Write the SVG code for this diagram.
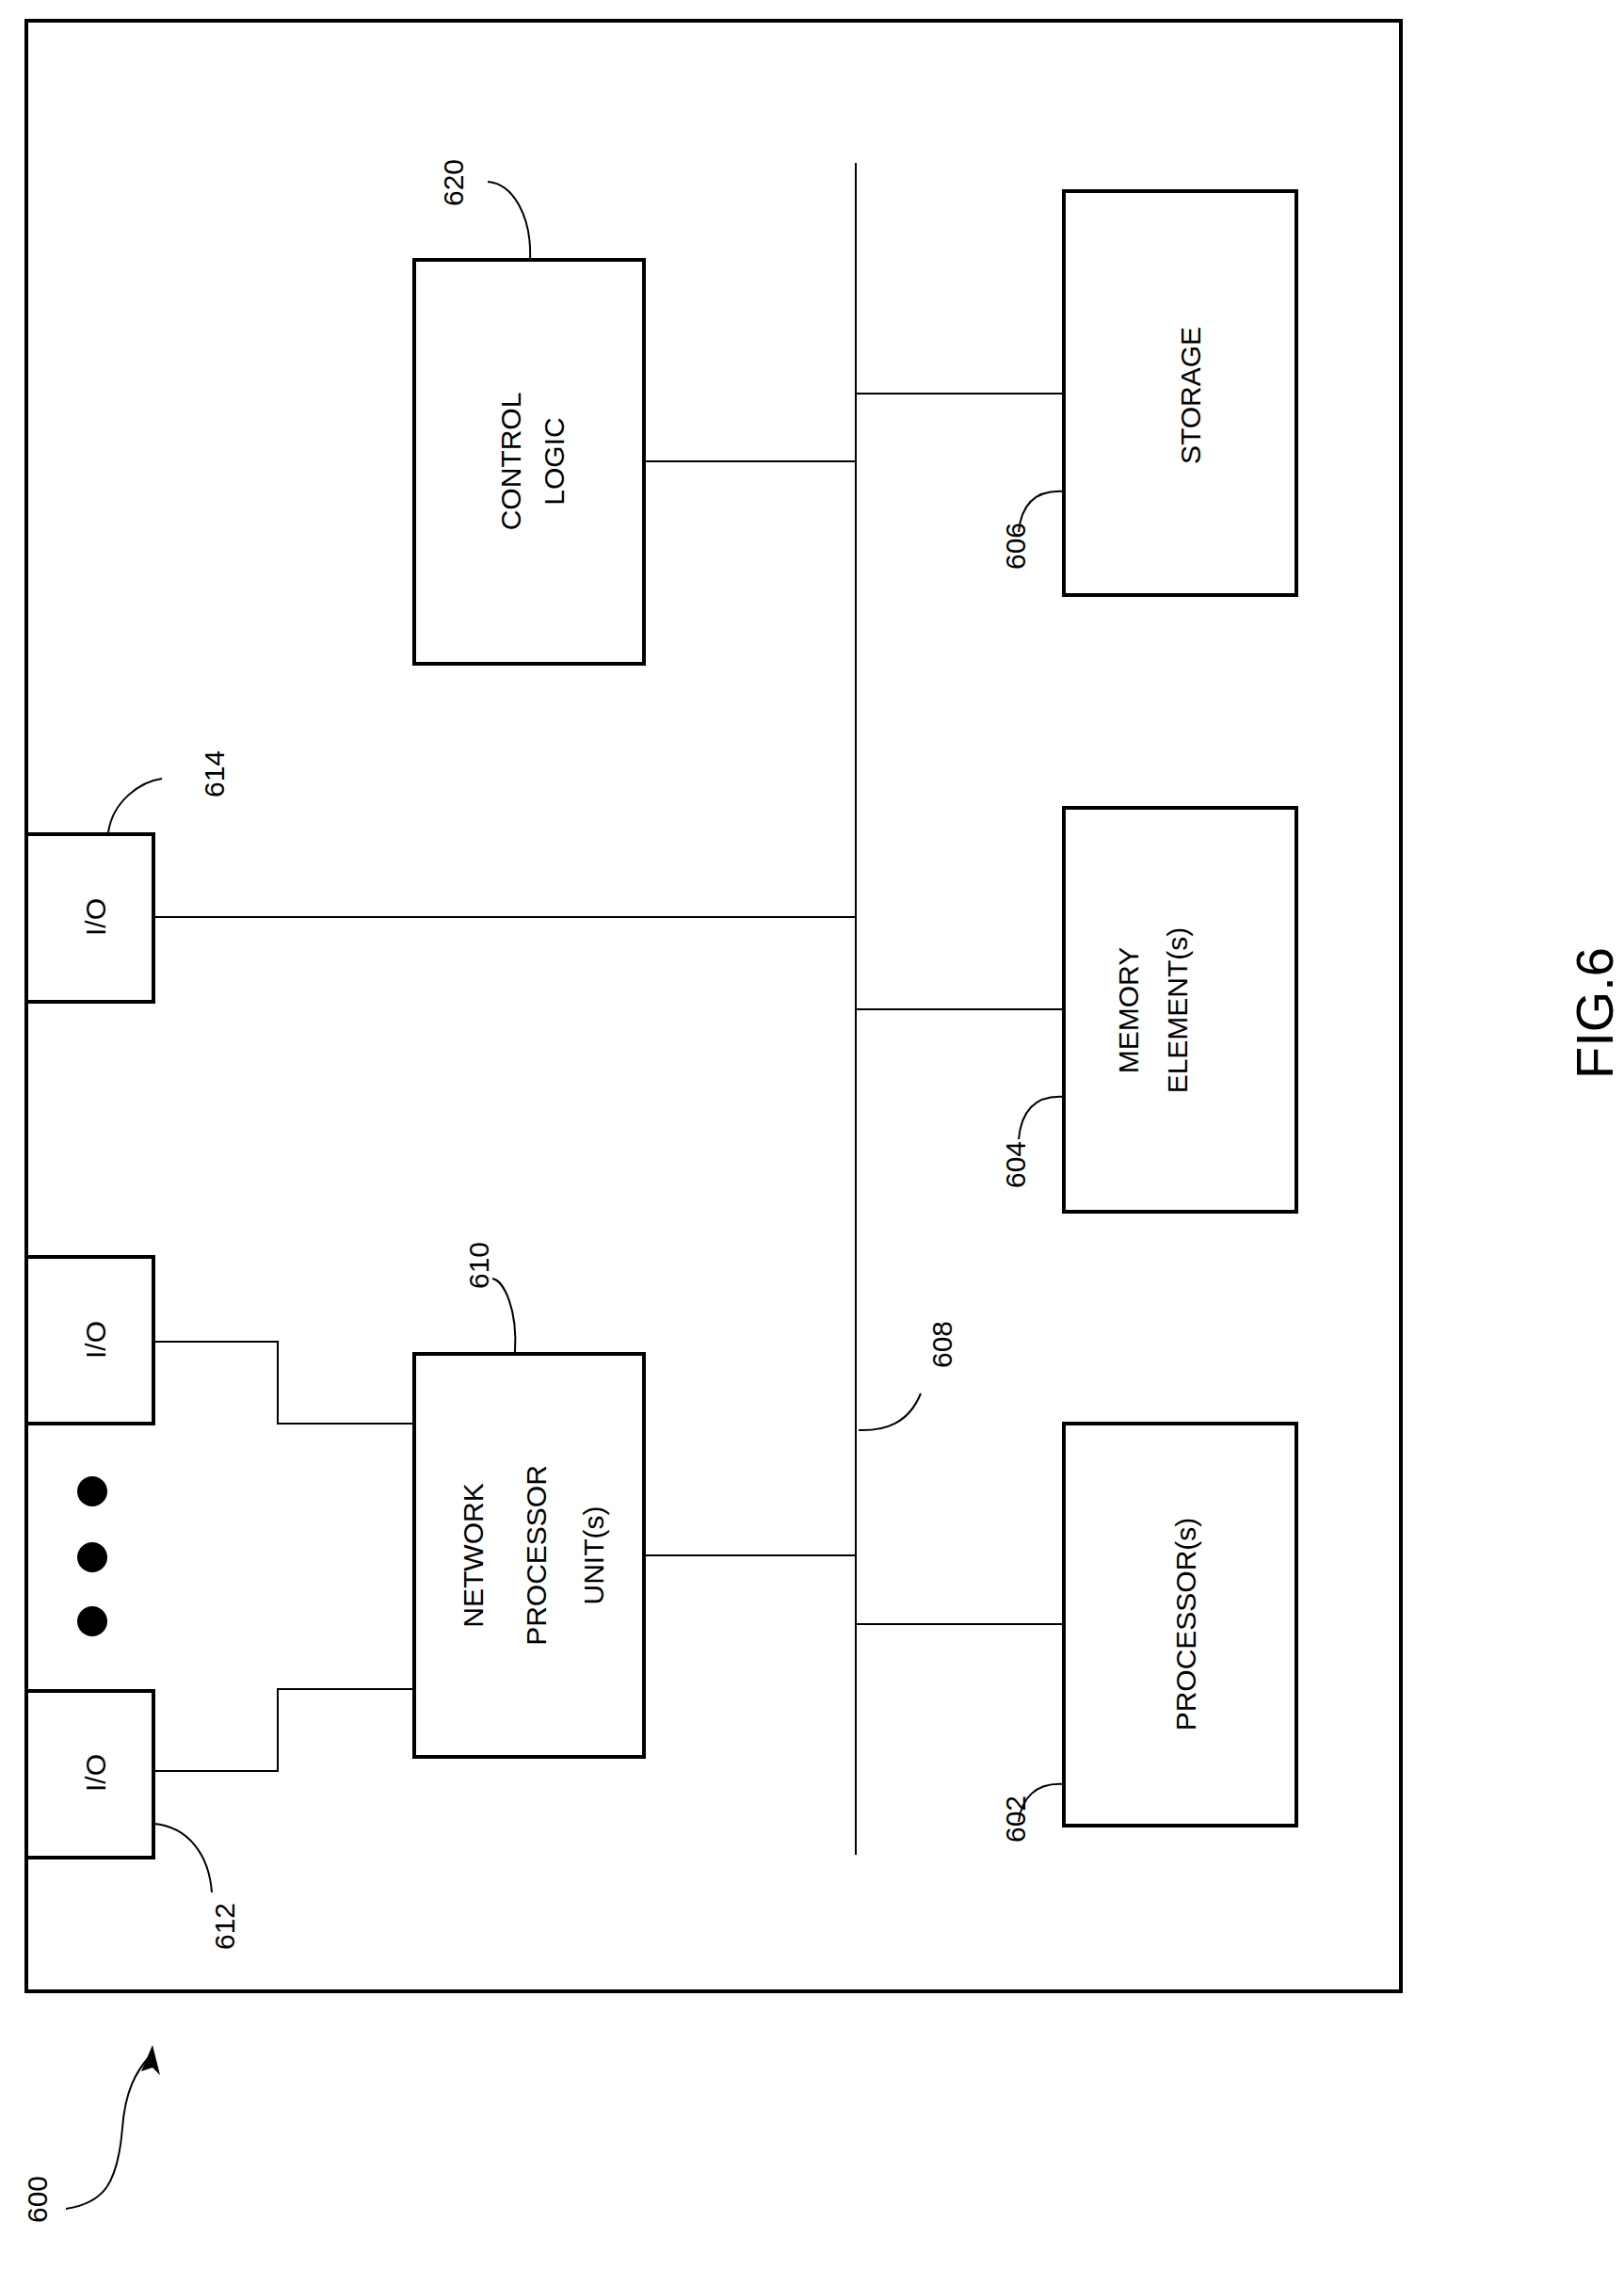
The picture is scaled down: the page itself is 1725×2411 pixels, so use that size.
<svg xmlns="http://www.w3.org/2000/svg" width="1725" height="2411" viewBox="0 0 1725 2411">
<style>
.b{fill:#fff;stroke:#000;stroke-width:4}
.l{fill:none;stroke:#000;stroke-width:2}
.t{font-family:"Liberation Sans",Arial,sans-serif;font-size:30px;text-anchor:middle;fill:#000}
.n{font-family:"Liberation Sans",Arial,sans-serif;font-size:30px;text-anchor:middle;fill:#000}
</style>
<rect x="0" y="0" width="1725" height="2411" fill="#fff"/>
<rect x="28" y="22" width="1460" height="2093" fill="none" stroke="#000" stroke-width="4"/>
<g id="connectors">
<line class="l" x1="909" y1="173" x2="909" y2="1970" stroke-width="3"/>
<line class="l" x1="684" y1="490" x2="909" y2="490"/>
<line class="l" x1="909" y1="418" x2="1130" y2="418"/>
<line class="l" x1="163" y1="974" x2="909" y2="974"/>
<line class="l" x1="909" y1="1072" x2="1130" y2="1072"/>
<line class="l" x1="684" y1="1652" x2="909" y2="1652"/>
<line class="l" x1="909" y1="1725" x2="1130" y2="1725"/>
<polyline class="l" points="163,1425 295,1425 295,1512 440,1512"/>
<polyline class="l" points="163,1881 295,1881 295,1794 440,1794"/>
<path class="l" d="M563,276 C565,230 545,195 518,193"/>
<path class="l" d="M115,884 C120,850 150,830 172,827"/>
<path class="l" d="M547,1437 C550,1390 535,1360 523,1358"/>
<path class="l" d="M912,1519 C940,1520 965,1512 978,1480"/>
<path class="l" d="M1130,522 C1100,520 1085,535 1082,565"/>
<path class="l" d="M1130,1165 C1100,1163 1085,1180 1082,1210"/>
<path class="l" d="M1130,1895 C1100,1893 1085,1910 1082,1935"/>
<path class="l" d="M163,1937 C200,1940 222,1970 225,2010"/>
<path class="l" d="M70,2346 C110,2340 125,2320 130,2260 C133,2220 145,2200 158,2185"/>
<polygon points="162,2172 150,2200 162,2196 170,2204" fill="#000"/>
</g>
<g id="n620"><rect class="b" x="440" y="276" width="244" height="429"/>
<text class="t" transform="translate(553,490) rotate(-90)">CONTROL</text>
<text class="t" transform="translate(599,490) rotate(-90)">LOGIC</text></g>
<g id="n606"><rect class="b" x="1130" y="203" width="247" height="429"/>
<text class="t" transform="translate(1275,420) rotate(-90)">STORAGE</text></g>
<g id="n604"><rect class="b" x="1130" y="858" width="247" height="429"/>
<text class="t" transform="translate(1209,1073) rotate(-90)">MEMORY</text>
<text class="t" transform="translate(1261,1073) rotate(-90)">ELEMENT(s)</text></g>
<g id="n602"><rect class="b" x="1130" y="1512" width="247" height="427"/>
<text class="t" transform="translate(1270,1725) rotate(-90)">PROCESSOR(s)</text></g>
<g id="n610"><rect class="b" x="440" y="1438" width="244" height="428"/>
<text class="t" transform="translate(513,1652) rotate(-90)">NETWORK</text>
<text class="t" transform="translate(580,1652) rotate(-90)">PROCESSOR</text>
<text class="t" transform="translate(641,1652) rotate(-90)">UNIT(s)</text></g>
<g id="n614"><rect class="b" x="28" y="886" width="135" height="178"/>
<text class="t" transform="translate(112,974) rotate(-90)">I/O</text></g>
<g id="io2"><rect class="b" x="28" y="1335" width="135" height="177"/>
<text class="t" transform="translate(112,1423) rotate(-90)">I/O</text></g>
<g id="n612"><rect class="b" x="28" y="1796" width="135" height="177"/>
<text class="t" transform="translate(112,1883) rotate(-90)">I/O</text></g>
<g id="dots"><circle cx="98" cy="1584" r="16"/><circle cx="98" cy="1654" r="16"/><circle cx="98" cy="1722" r="16"/></g>
<g id="labels">
<text class="n" transform="translate(492,194) rotate(-90)">620</text>
<text class="n" transform="translate(238,822) rotate(-90)">614</text>
<text class="n" transform="translate(519,1344) rotate(-90)">610</text>
<text class="n" transform="translate(1011,1428) rotate(-90)">608</text>
<text class="n" transform="translate(1089,580) rotate(-90)">606</text>
<text class="n" transform="translate(1089,1237) rotate(-90)">604</text>
<text class="n" transform="translate(1089,1932) rotate(-90)">602</text>
<text class="n" transform="translate(249,2046) rotate(-90)">612</text>
<text class="n" transform="translate(50,2336) rotate(-90)">600</text>
<text class="n" style="font-size:56px" transform="translate(1713,1076) rotate(-90)">FIG.6</text>
</g>
</svg>
